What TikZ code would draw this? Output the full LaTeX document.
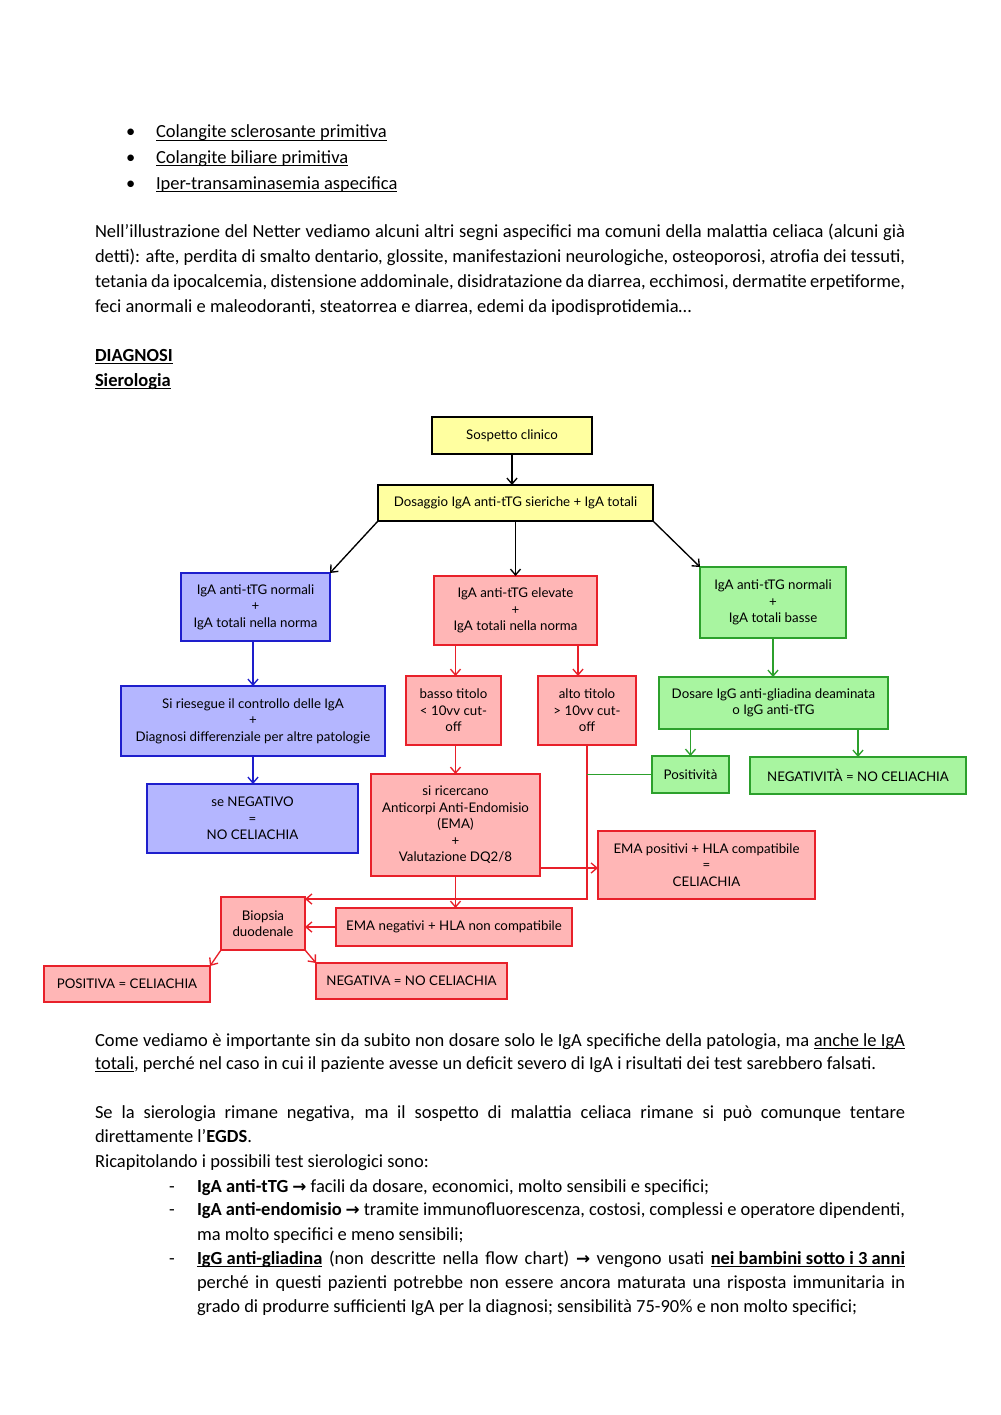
\documentclass[tikz,border=0pt]{standalone}
\usepackage{fontspec}
\setmainfont{Carlito}
\newfontfamily\flowfont{Lato}
\newfontfamily\arrfont{DejaVu Sans}
\usetikzlibrary{arrows.meta,calc}
\definecolor{yfill}{HTML}{FFFFA0}
\definecolor{bfill}{HTML}{B4B6FF}
\definecolor{bdraw}{HTML}{1E1ECC}
\definecolor{rfill}{HTML}{FFB6B6}
\definecolor{rdraw}{HTML}{E8202A}
\definecolor{gfill}{HTML}{A8F5A0}
\definecolor{gdraw}{HTML}{2CA02C}
\newcommand\ulx[1]{\underline{\smash{#1}}}
\newcommand\tarr{{\arrfont\bfseries\fontsize{10}{12}\selectfont →}}
\newcommand\fb[7]{\node[#1, minimum width={(#4-(#2))*0.595pt}, minimum height={(#5-(#3))*0.595pt}] (#6) at ({(#2+#4)/2},{(#3+#5)/2}) {#7};}
\begin{document}
\begin{tikzpicture}[x=0.595pt,y=-0.595pt,
  txt/.style={inner sep=0pt, outer sep=0pt, anchor=base west, font=\fontsize{11}{13}\selectfont},
  fbox/.style={inner sep=0pt, outer sep=0pt, line width=1.2pt, align=center,
     font=\flowfont\fontsize{7.9}{9.8}\selectfont},
  ybox/.style={fbox, draw=black, fill=yfill},
  bbox/.style={fbox, draw=bdraw, fill=bfill},
  rbox/.style={fbox, draw=rdraw, fill=rfill},
  gbox/.style={fbox, draw=gdraw, fill=gfill},
  arr/.style={line width=0.8pt, -{Straight Barb[length=3.5pt,width=6pt]}},
  karr/.style={arr, draw=black},
  barr/.style={arr, draw=bdraw},
  rarr/.style={arr, draw=rdraw},
  garr/.style={arr, draw=gdraw},
]
\useasboundingbox[fill=white] (0,0) rectangle (1000,1415);

% ---- top bullets
\node[txt] (bu1) at (126,138) {•};
\node[txt] (bu2) at (126,163) {•};
\node[txt] (bu3) at (126,189) {•};
\node[txt] (t1) at (156,138) {\ulx{Colangite sclerosante primitiva}};
\node[txt] (t2) at (156,163) {\ulx{Colangite biliare primitiva}};
\node[txt] (t3) at (156,189) {\ulx{Iper-transaminasemia aspecifica}};

% ---- paragraph
\node[txt] (p1) at (95,237) {\makebox[482pt][s]{Nell’illustrazione del Netter vediamo alcuni altri segni aspecifici ma comuni della malattia celiaca (alcuni già}};
\node[txt] (p2) at (95,262) {\makebox[482pt][s]{detti): afte, perdita di smalto dentario, glossite, manifestazioni neurologiche, osteoporosi, atrofia dei tessuti,}};
\node[txt] (p3) at (95,287) {\makebox[482pt][s]{tetania da ipocalcemia, distensione addominale, disidratazione da diarrea, ecchimosi, dermatite erpetiforme,}};
\node[txt] (p4) at (95,312) {feci anormali e maleodoranti, steatorrea e diarrea, edemi da ipodisprotidemia…};

\node[txt] (h1) at (95,361) {\ulx{\bfseries DIAGNOSI}};
\node[txt] (h2) at (95,386) {\ulx{\bfseries Sierologia}};

% ---- flowchart
\fb{ybox}{432}{417}{592}{454}{sc}{Sospetto clinico}
\fb{ybox}{378}{485}{653}{521}{dos}{Dosaggio IgA anti-tTG sieriche + IgA totali}
\fb{bbox}{181}{573}{330}{641}{b1}{IgA anti-tTG normali\\+\\IgA totali nella norma}
\fb{bbox}{121}{686}{385}{756}{b2}{Si riesegue il controllo delle IgA\\+\\Diagnosi differenziale per altre patologie}
\fb{bbox}{147}{784}{358}{853}{b3}{se NEGATIVO\\=\\NO CELIACHIA}
\fb{rbox}{434}{576}{597}{645}{r1}{IgA anti-tTG elevate\\+\\IgA totali nella norma}
\fb{rbox}{406}{676}{501}{745}{basso}{basso titolo\\< 10vv cut-\\off}
\fb{rbox}{538}{676}{636}{745}{alto}{alto titolo\\> 10vv cut-\\off}
\fb{rbox}{371}{774}{540}{876}{ric}{si ricercano\\Anticorpi Anti-Endomisio\\(EMA)\\+\\Valutazione DQ2/8}
\fb{rbox}{598}{831}{815}{899}{emapos}{EMA positivi + HLA compatibile\\=\\CELIACHIA}
\fb{rbox}{336}{908}{572}{946}{emaneg}{EMA negativi + HLA non compatibile}
\fb{rbox}{221}{897}{305}{950}{bio}{Biopsia\\duodenale}
\fb{rbox}{44}{966}{210}{1002}{pos}{POSITIVA = CELIACHIA}
\fb{rbox}{316}{963}{507}{999}{neg}{NEGATIVA = NO CELIACHIA}
\fb{gbox}{700}{567}{846}{638}{g1}{IgA anti-tTG normali\\+\\IgA totali basse}
\fb{gbox}{659}{677}{888}{729}{g2}{Dosare IgG anti-gliadina deaminata\\o IgG anti-tTG}
\fb{gbox}{652}{756}{729}{793}{posv}{Positività}
\fb{gbox}{750}{757}{966}{794}{negv}{NEGATIVITÀ = NO CELIACHIA}

% connectors
\draw[karr] (sc.south) -- (sc.south |- dos.north);
\draw[karr] (dos.south west) -- (b1.north east);
\draw[karr] (r1.north |- dos.south) -- (r1.north);
\draw[karr] (dos.south east) -- (g1.north west);
\draw[barr] (b2.south |- b1.south) -- (b2.north);
\draw[barr] (b2.south) -- (b2.south |- b3.north);
\draw[rarr] (ric.north |- r1.south) -- (ric.north |- basso.north);
\draw[rarr] (578,0 |- r1.south) -- (578,0 |- alto.north);
\draw[rarr] (ric.north |- basso.south) -- (ric.north);
\draw[rarr] (ric.south) -- (ric.south |- emaneg.north);
\draw[rarr] (ric.east |- 0,868) -- (emapos.west |- 0,868);
\draw[rarr] (alto.south) |- ($(bio.north east)+(0,2)$);
\draw[rarr] (emaneg.west) -- (emaneg.west -| bio.east);
\draw[rarr] (bio.south west) -- (pos.north east);
\draw[rarr] (bio.south east) -- (neg.north west);
\draw[garr] (g1.south) -- (g1.south |- g2.north);
\draw[garr] (posv.north |- g2.south) -- (posv.north);
\draw[garr] (negv.north |- g2.south) -- (negv.north);
\draw[gdraw, line width=0.8pt] (posv.west) -- (posv.west -| alto.south);

% ---- lower text
\node[txt] (c1) at (95,1046) {\makebox[482pt][s]{Come vediamo è importante sin da subito non dosare solo le IgA specifiche della patologia, ma \ulx{anche le IgA}}};
\node[txt] (c2) at (95,1069) {\ulx{totali}, perché nel caso in cui il paziente avesse un deficit severo di IgA i risultati dei test sarebbero falsati.};
\node[txt] (s1) at (95,1118) {\makebox[482pt][s]{Se la sierologia rimane negativa, ma il sospetto di malattia celiaca rimane si può comunque tentare}};
\node[txt] (s2) at (95,1142) {direttamente l’\textbf{EGDS}.};
\node[txt] (s3) at (95,1167) {Ricapitolando i possibili test sierologici sono:};

\node[txt] (d1) at (169,1192) {-};
\node[txt] (d2) at (169,1215) {-};
\node[txt] (d3) at (169,1264) {-};
\node[txt] (i1) at (197,1192) {\textbf{IgA anti-tTG} \tarr{} facili da dosare, economici, molto sensibili e specifici;};
\node[txt] (i2) at (197,1215) {\makebox[421.3pt][s]{\textbf{IgA anti-endomisio} \tarr{} tramite immunofluorescenza, costosi, complessi e operatore dipendenti,}};
\node[txt] (i2b) at (197,1240) {ma molto specifici e meno sensibili;};
\node[txt] (i3) at (197,1264) {\makebox[421.3pt][s]{\ulx{\textbf{IgG anti-gliadina}} (non descritte nella flow chart) \tarr{} vengono usati \ulx{\textbf{nei bambini sotto i 3 anni}}}};
\node[txt] (i3b) at (197,1288) {\makebox[421.3pt][s]{perché in questi pazienti potrebbe non essere ancora maturata una risposta immunitaria in}};
\node[txt] (i3c) at (197,1312) {grado di produrre sufficienti IgA per la diagnosi; sensibilità 75-90\% e non molto specifici;};
\end{tikzpicture}
\end{document}
